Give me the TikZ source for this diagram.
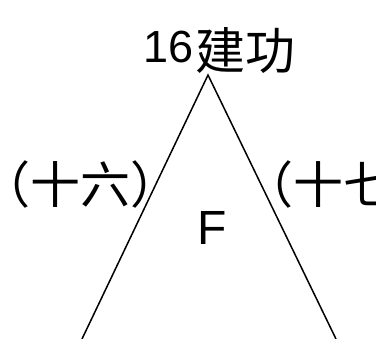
\documentclass[tikz,border=0pt]{standalone}
\usepackage{fontspec}
\setmainfont{Liberation Sans}
\newfontfamily\cjk{Noto Sans CJK SC}
\begin{document}
\begin{tikzpicture}[x=1pt,y=-1pt,
  edge/.style={line width=1.5pt},
  cjktext/.style={font=\cjk\fontsize{50}{52}\selectfont, inner sep=0pt, anchor=base west}]
\useasboundingbox (0,0) rectangle (376,339);
\clip (0,0) rectangle (376,339);
\coordinate (apex) at (208,75);
\coordinate (bl) at (82,339);
\coordinate (br) at (336,339);
\draw[edge] (bl) -- (apex) -- (br);
\node[inner sep=0pt, anchor=base west] (title) at (143,63) {\fontsize{45}{47}\selectfont 16\hspace{2pt}\raisebox{-7pt}{\cjk\fontsize{50}{52}\selectfont 建功}};
\node[inner sep=0pt, anchor=base west] (F) at (197,245) {\fontsize{48}{50}\selectfont F};
\node[cjktext] (left) at (-20,204) {（十六）};
\node[cjktext] (right) at (243,204) {（十七};
\end{tikzpicture}
\end{document}
